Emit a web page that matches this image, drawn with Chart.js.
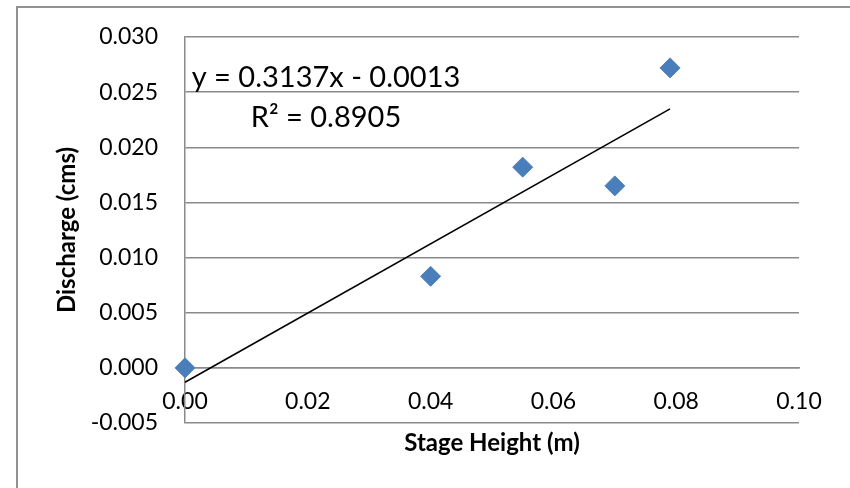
<!DOCTYPE html>
<html><head><meta charset="utf-8">
<script src="https://cdn.jsdelivr.net/npm/chart.js@4.4.1/dist/chart.umd.min.js"></script>
<style>html,body{margin:0;padding:0;background:#fff}canvas{display:block}</style>
</head><body>
<canvas id="c" width="850" height="488"></canvas>
<script>
// ---- data ----
const stageHeight = [0.000, 0.040, 0.055, 0.070, 0.079];   // m
const discharge   = [0.0000, 0.0083, 0.0182, 0.0165, 0.0272]; // cms
const trendSlope = 0.3137;
const trendIntercept = -0.0013;
const rSquared = 0.8905;
const xTickValues = [0.00, 0.02, 0.04, 0.06, 0.08, 0.10];
const yTickValues = [-0.005, 0.000, 0.005, 0.010, 0.015, 0.020, 0.025, 0.030];
const xTitle = 'Stage Height (m)';
const yTitle = 'Discharge (cms)';
const eqText = 'y = ' + trendSlope.toFixed(4) + 'x - ' + Math.abs(trendIntercept).toFixed(4);
const r2Text = 'R\u00B2 = ' + rSquared.toFixed(4);

const points = stageHeight.map((x, i) => ({x: x, y: discharge[i]}));
const xEnd = stageHeight[stageHeight.length - 1];
const trend = [
  {x: stageHeight[0], y: trendSlope * stageHeight[0] + trendIntercept},
  {x: xEnd, y: trendSlope * xEnd + trendIntercept}
];

const GRID = '#8a8a8a';
const FONT = 'Lato';

const decor = {
  id: 'decor',
  beforeDraw(chart) {
    const ctx = chart.ctx;
    ctx.save();
    ctx.strokeStyle = '#868686';
    ctx.lineWidth = 1.8;
    ctx.strokeRect(17, 7, 1000, 1000);
    ctx.restore();
  },
  afterDatasetsDraw(chart) {
    const ctx = chart.ctx;
    const a = chart.chartArea;
    ctx.save();
    ctx.fillStyle = '#000';
    ctx.textAlign = 'center';
    ctx.textBaseline = 'middle';
    ctx.font = '29px ' + FONT;
    const cx = a.left + 141;
    ctx.fillText(eqText, cx, a.top + 41);
    ctx.fillText(r2Text, cx, a.top + 81);
    ctx.restore();
  }
};

new Chart(document.getElementById('c'), {
  type: 'scatter',
  data: {
    datasets: [
      {
        label: 'Discharge',
        data: points,
        pointStyle: 'rectRot',
        pointRadius: 10,
        pointHoverRadius: 10,
        backgroundColor: '#4A7EBB',
        borderColor: '#4F81BD',
        borderWidth: 1,
        clip: false
      },
      {
        label: 'Linear',
        data: trend,
        showLine: true,
        pointRadius: 0,
        borderColor: '#000',
        borderWidth: 1.6,
        clip: false
      }
    ]
  },
  options: {
    responsive: false,
    animation: false,
    devicePixelRatio: 1,
    layout: {padding: {left: 0, top: 37, right: 51, bottom: 65}},
    plugins: {legend: {display: false}, tooltip: {enabled: false}},
    scales: {
      x: {
        type: 'linear',
        position: {y: 0},
        min: 0, max: 0.1,
        afterBuildTicks: s => { s.ticks = xTickValues.map(v => ({value: v})); },
        afterFit: s => { s.height = 65; },
        grid: {display: false, drawTicks: false},
        border: {display: true, color: GRID, width: 1.5},
        ticks: {
          color: '#000', padding: 20, maxRotation: 0, autoSkip: false,
          font: {family: FONT, size: 23},
          callback: v => Number(v).toFixed(2)
        },
        title: {
          display: true, text: xTitle, color: '#000',
          font: {family: FONT, size: 24, weight: 'bold'},
          padding: {top: 0, bottom: -25}
        }
      },
      y: {
        type: 'linear',
        position: 'left',
        min: -0.005, max: 0.03,
        afterBuildTicks: s => { s.ticks = yTickValues.map(v => ({value: v})); },
        afterFit: s => { s.width = 185; },
        grid: {display: true, color: GRID, lineWidth: 1.5, drawTicks: false},
        border: {display: true, color: GRID, width: 1.5},
        ticks: {
          color: '#000', padding: 27, autoSkip: false,
          font: {family: FONT, size: 23, lineHeight: 0.8},
          callback: v => Number(v).toFixed(3)
        },
        title: {
          display: true, text: yTitle, color: '#000',
          font: {family: FONT, size: 24, weight: 'bold'},
          padding: {top: 53, bottom: 0}
        }
      }
    }
  },
  plugins: [decor]
});
</script>
</body></html>
